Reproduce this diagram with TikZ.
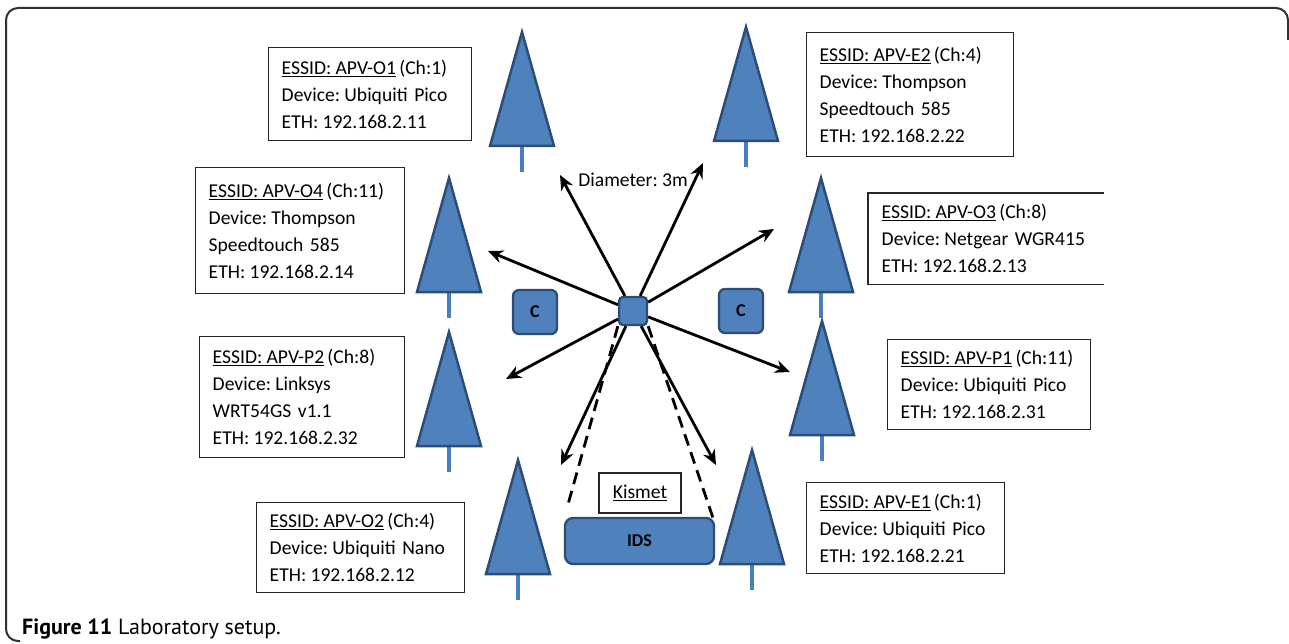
\documentclass[tikz,border=0pt]{standalone}
\usepackage{fontspec}
\setmainfont{Carlito}
\newfontfamily\capfont{PT Sans}
\usetikzlibrary{arrows.meta,calc}
\definecolor{treeblue}{HTML}{4F81BD}
\definecolor{treeborder}{HTML}{2C4D75}
\definecolor{stemblue}{HTML}{4A7EC0}
\definecolor{framegray}{HTML}{303030}
\newcommand{\cs}{\hspace{0.22em}}
\tikzset{
  treepic/.pic={
    \draw[stemblue, line width=4.5pt] (0,113) -- (0,140);
    \filldraw[fill=treeblue, draw=treeborder, line width=2.5pt, line join=miter] (0,0) -- (32,114) -- (-32,114) -- cycle;
  },
  infobox/.style={draw=black!85, line width=1.4pt, anchor=north west, inner xsep=13pt, inner ysep=0pt,
    align=left, font=\fontsize{19.6}{27}\selectfont},
  bluebox/.style={fill=treeblue, draw=treeborder, line width=2.3pt, rounded corners=5pt},
  arr/.style={line width=2.8pt, -{Stealth[length=15pt,width=13pt]}},
  dashline/.style={line width=2.8pt, dash pattern=on 12pt off 7pt},
}
\begin{document}
\begin{tikzpicture}[x=1pt,y=-1pt]
\useasboundingbox (0,0) rectangle (1289,644);
% outer frame
\draw[framegray, line width=2pt, rounded corners=12pt] (20,641) -- (6,641) -- (6,8) -- (1288,8) -- (1288,40);

% trees
\pic at (522,32) {treepic};
\pic at (746,27) {treepic};
\pic at (449,178) {treepic};
\pic at (821,178) {treepic};
\pic at (449,332) {treepic};
\pic at (822,321) {treepic};
\pic at (518,460) {treepic};
\pic at (752,450) {treepic};

% info boxes
\node[infobox, text width=177pt, minimum height=93pt] (o1) at (268,47)
  {\underline{ESSID:\cs APV-O1}\,(Ch:1)\\Device:\cs Ubiquiti Pico\\ETH:\cs 192.168.2.11};
\node[infobox, text width=183pt, minimum height=126pt] (o4) at (195,167)
  {\underline{ESSID:\cs APV-O4}\,(Ch:11)\\Device:\cs Thompson\\Speedtouch 585\\ETH:\cs 192.168.2.14};
\node[infobox, text width=181pt, minimum height=124pt] (e2) at (806,32)
  {\underline{ESSID:\cs APV-E2}\,(Ch:4)\\Device:\cs Thompson\\Speedtouch 585\\ETH:\cs 192.168.2.22};
\node[infobox, draw=none, text width=209pt, minimum height=90pt] (o3) at (868,193)
  {\underline{ESSID:\cs APV-O3}\,(Ch:8)\\Device:\cs Netgear WGR415\\ETH:\cs 192.168.2.13};
\draw[black!85, line width=1.4pt] (o3.north east) -- (o3.north west) -- (o3.south west) -- (o3.south east);
\node[infobox, text width=179pt, minimum height=121pt] (p2) at (199,336)
  {\underline{ESSID:\cs APV-P2}\,(Ch:8)\\Device:\cs Linksys\\WRT54GS v1.1\\ETH:\cs 192.168.2.32};
\node[infobox, text width=177pt, minimum height=90pt] (p1) at (887,339)
  {\underline{ESSID:\cs APV-P1}\,(Ch:11)\\Device:\cs Ubiquiti Pico\\ETH:\cs 192.168.2.31};
\node[infobox, text width=182pt, minimum height=90pt] (o2) at (256,502)
  {\underline{ESSID:\cs APV-O2}\,(Ch:4)\\Device:\cs Ubiquiti Nano\\ETH:\cs 192.168.2.12};
\node[infobox, text width=172pt, minimum height=91pt] (e1) at (806,482)
  {\underline{ESSID:\cs APV-E1}\,(Ch:1)\\Device:\cs Ubiquiti Pico\\ETH:\cs 192.168.2.21};

% hub and C boxes
\node[bluebox, rounded corners=4pt, minimum width=28pt, minimum height=28pt, inner sep=0pt] (hub) at (633,311) {};
\node[bluebox, rounded corners=6pt, minimum width=44pt, minimum height=44pt, inner sep=0pt,
  font=\bfseries\fontsize{18}{18}\selectfont] (cl) at (535,312) {C};
\node[bluebox, rounded corners=6pt, minimum width=44pt, minimum height=44pt, inner sep=0pt,
  font=\bfseries\fontsize{18}{18}\selectfont] (cr) at (741,311) {C};

% IDS and Kismet
\node[bluebox, rounded corners=8pt, minimum width=149pt, minimum height=46pt, inner sep=0pt,
  font=\bfseries\fontsize{18}{18}\selectfont] (ids) at (639.5,541) {IDS};
\node[draw=black!85, line width=1.4pt, minimum width=82pt, minimum height=40pt, inner sep=0pt,
  font=\fontsize{19.6}{19.6}\selectfont] (kis) at (640,493) {\underline{Kismet}};

% label
\node[font=\fontsize{19.6}{19.6}\selectfont, inner sep=1pt] (diam) at (633,180) {Diameter:\cs 3m};

% arrow ends
\coordinate (a1) at (560,175);
\coordinate (a2) at (703,163);
\coordinate (a3) at (488,251);
\coordinate (a4) at (774,229);
\coordinate (a5) at (506,379);
\coordinate (a6) at (790,372);
\coordinate (a7) at (561,465);
\coordinate (a8) at (716,465);
\foreach \c in {a1,a2,a3,a4,a5,a6,a7,a8} \draw[arr] (hub) -- (\c);

% dashed lines
\coordinate (dl) at (567,508);
\coordinate (dr) at (713,518);
\draw[dashline] (hub.south west) -- (dl);
\draw[dashline] (hub.south east) -- (dr);

% caption
\node[anchor=base west, inner sep=0pt, font=\capfont\fontsize{22}{22}\selectfont] (cap) at (22,634)
  {\textbf{Figure 11} Laboratory setup.};
\end{tikzpicture}
\end{document}
